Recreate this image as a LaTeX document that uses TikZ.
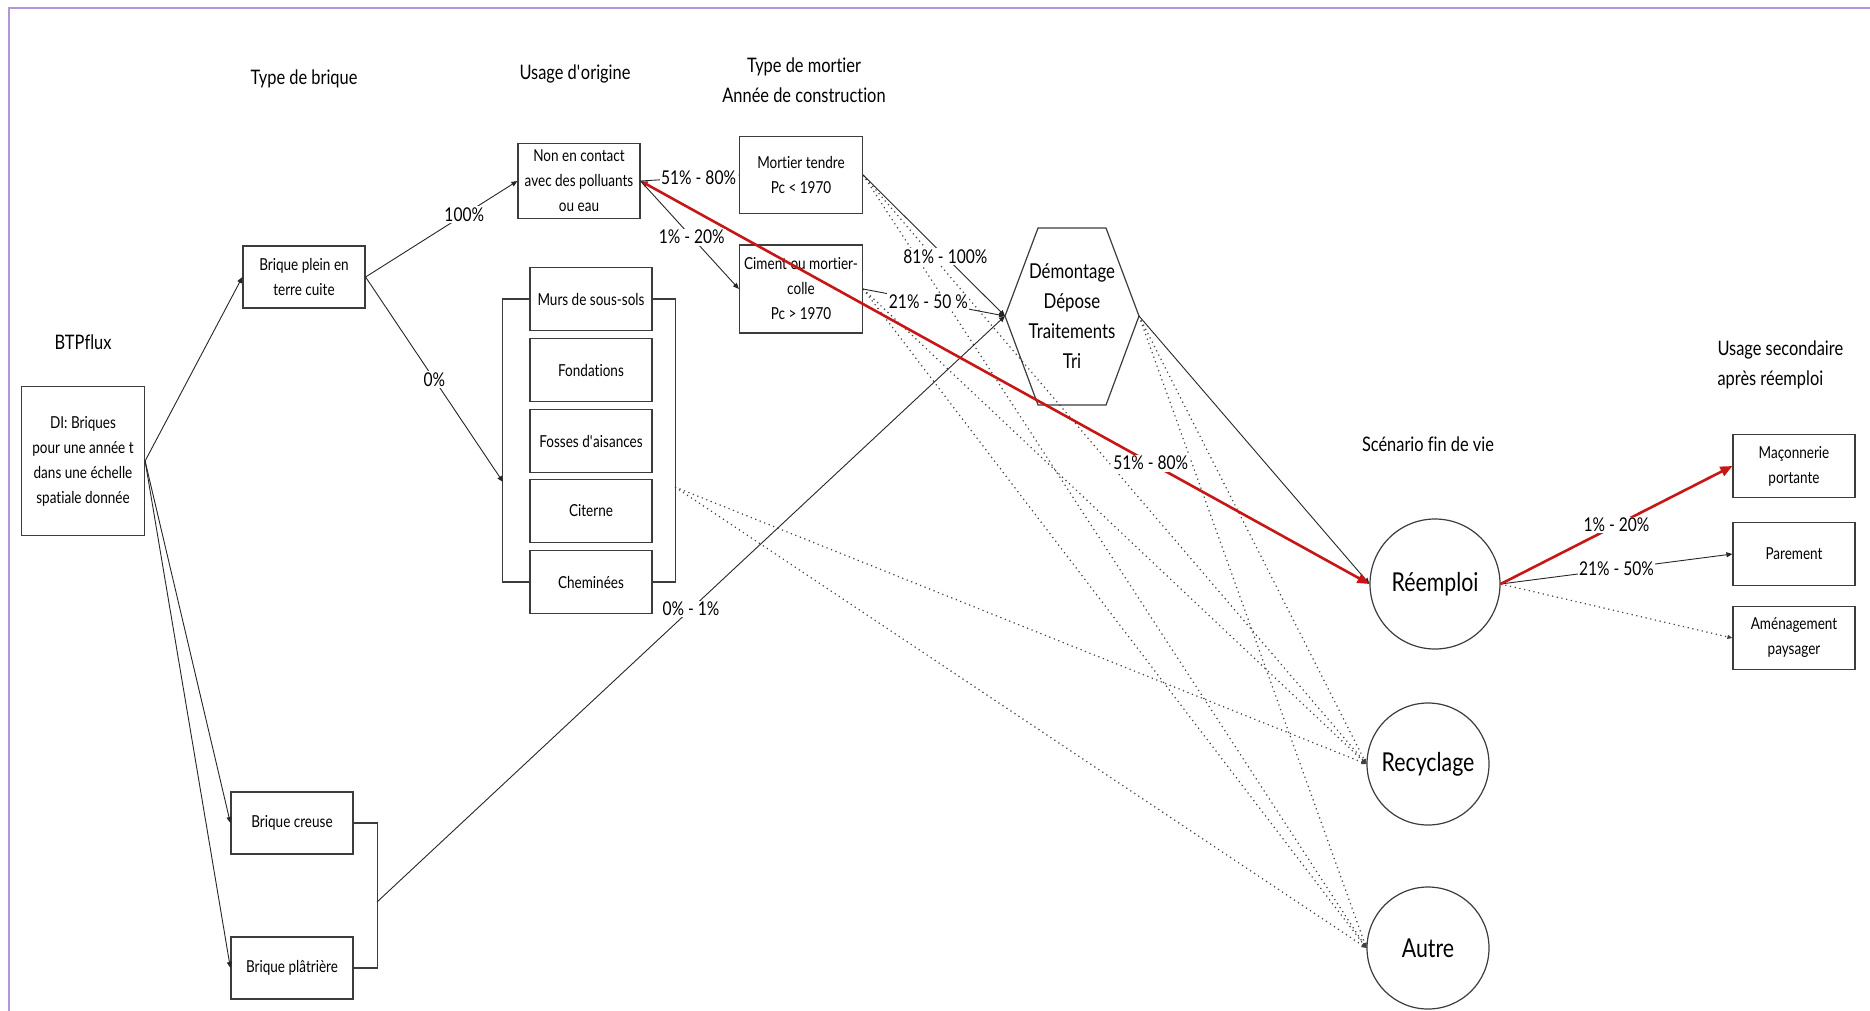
\documentclass[tikz,border=0pt]{standalone}
\usepackage{fontspec}
\setmainfont{Lato}[FakeStretch=0.82,Ligatures=NoCommon]
\usetikzlibrary{arrows.meta}
\definecolor{framec}{RGB}{178,150,218}
\definecolor{redc}{RGB}{200,22,22}
\definecolor{boxc}{RGB}{60,60,60}
\begin{document}
\begin{tikzpicture}[x=1pt,y=-1pt,
  box/.style={draw=boxc, line width=1.2pt, minimum width=122pt, minimum height=63pt, inner sep=0pt, align=center, font=\fontsize{16.5}{25}\selectfont},
  circ/.style={draw=boxc, line width=1.2pt, circle, inner sep=0pt, font=\fontsize{26}{30}\selectfont},
  lab/.style={fill=white, inner sep=1.5pt, font=\fontsize{19}{22}\selectfont},
  ttl/.style={align=center, font=\fontsize{20}{30}\selectfont},
  con/.style={draw=black!85, line width=0.9pt, -{Triangle[length=6pt,width=5pt]}},
  grp/.style={draw=boxc, line width=1.2pt},
  dotl/.style={draw=black!75, line width=1.2pt, dash pattern=on 1.2pt off 3.6pt, -{Triangle[length=5pt,width=4pt]}},
  redflow/.style={draw=redc, line width=2.6pt, -{Triangle[length=12pt,width=10pt]}}
]
\useasboundingbox (0,0) rectangle (1870,1010);
\draw[framec, line width=2pt] (9,1012) -- (9,8) -- (1872,8);

% titles
\node[ttl] (t1) at (83,342) {BTPflux};
\node[ttl] (t2) at (304,79) {Type de brique};
\node[ttl] (t3) at (575,74) {Usage d\textquotesingle origine};
\node[ttl] (t4) at (804,80) {Type de mortier\\Année de construction};
\node[ttl] (t5) at (1428,444) {Scénario fin de vie};
\node[ttl, align=left, anchor=west] (t6) at (1714,365) {Usage secondaire\\après réemploi};

% boxes
\node[box, minimum width=123pt, minimum height=149pt] (di) at (83,461) {DI: Briques\\pour une année t\\dans une échelle\\spatiale donnée};
\node[box, minimum height=62pt] (bp) at (304,277) {Brique plein en\\terre cuite};
\node[box, minimum height=75pt] (nc) at (579,181) {Non en contact\\avec des polluants\\ou eau};
\node[box] (murs) at (591,299) {Murs de sous-sols};
\node[box] (fond) at (591,370) {Fondations};
\node[box] (fos) at (591,441) {Fosses d\textquotesingle aisances};
\node[box] (cit) at (591,511) {Citerne};
\node[box] (chem) at (591,582) {Cheminées};
\node[box, minimum width=123pt, minimum height=77pt] (mt) at (801,175) {Mortier tendre\\Pc < 1970};
\node[box, minimum width=123pt, minimum height=88pt] (ci) at (801,289) {Ciment ou mortier-\\colle\\Pc > 1970};
\node[box, minimum height=62pt] (bc) at (292,823) {Brique creuse};
\node[box, minimum height=62pt] (bpl) at (292,968) {Brique plâtrière};
\node[box] (mac) at (1794,466) {Maçonnerie\\portante};
\node[box] (par) at (1794,554) {Parement};
\node[box] (amen) at (1794,638) {Aménagement\\paysager};

% hexagon
\coordinate (hexW) at (1005,316);
\coordinate (hexE) at (1139,316);
\draw[grp] (hexW) -- (1038,228) -- (1106,228) -- (hexE) -- (1106,405) -- (1038,405) -- cycle;
\node[align=center, font=\fontsize{20.5}{30}\selectfont] (hex) at (1072,316) {Démontage\\Dépose\\Traitements\\Tri};

% circles
\node[circ, minimum size=130pt] (reem) at (1435,584) {Réemploi};
\node[circ, minimum size=122pt] (recy) at (1428,764) {Recyclage};
\node[circ, minimum size=122pt] (autre) at (1428,948) {Autre};

% group brackets
\draw[grp] (murs.west) -- ++(-27,0) |- (chem.west);
\draw[grp] (murs.east) -- ++(23,0) |- (chem.east);
\coordinate (brL) at (503,482);
\coordinate (brR) at (675,487);
\draw[grp] (bc.east) -- ++(24,0) |- (bpl.east);
\coordinate (brB) at (377,902);

% dotted flows
\draw[dotl] (mt.east) -- (recy.west);
\draw[dotl] (mt.east) -- (autre.west);
\draw[dotl] (ci.east) -- (recy.west);
\draw[dotl] (ci.east) -- (autre.west);
\draw[dotl] (hexE) -- (recy.west);
\draw[dotl] (hexE) -- (autre.west);
\draw[dotl] (brR) -- (recy.west);
\draw[dotl] (brR) -- (autre.west);
\draw[dotl] (reem.east) -- (amen.west);

% solid flows
\draw[con] (di.east) -- (bp.west);
\draw[con] (di.east) -- (bc.west);
\draw[con] (di.east) -- (bpl.west);
\draw[con] (bp.east) -- node[lab, pos=0.65] (l100) {100\%} (nc.west);
\draw[con] (bp.east) -- node[lab, pos=0.5] (l0) {0\%} (brL);
\draw[con] (nc.east) -- node[lab, pos=0.59] (l5180a) {51\% - 80\%} (mt.west);
\draw[con] (mt.east) -- node[lab, pos=0.58] (l81) {81\% - 100\%} (hexW);
\draw[con] (ci.east) -- node[lab, pos=0.46] (l2150a) {21\% - 50 \%} (hexW);
\draw[con] (brB) -- node[lab, pos=0.5] (l01) {0\% - 1\%} (hexW);
\draw[con] (hexE) -- (reem.west);
\draw[con] (reem.east) -- node[lab, pos=0.5] (l2150b) {21\% - 50\%} (par.west);

% red flows
\draw[redflow, {Triangle[length=7pt,width=6pt]}-{Triangle[length=12pt,width=10pt]}] (nc.east) -- node[lab, pos=0.70] (l5180b) {51\% - 80\%} (reem.west);
\draw[redflow] (reem.east) -- node[lab, pos=0.5] (l120b) {1\% - 20\%} (mac.west);
\draw[con] (nc.east) -- node[lab, pos=0.52] (l120a) {1\% - 20\%} (ci.west);
\end{tikzpicture}
\end{document}
